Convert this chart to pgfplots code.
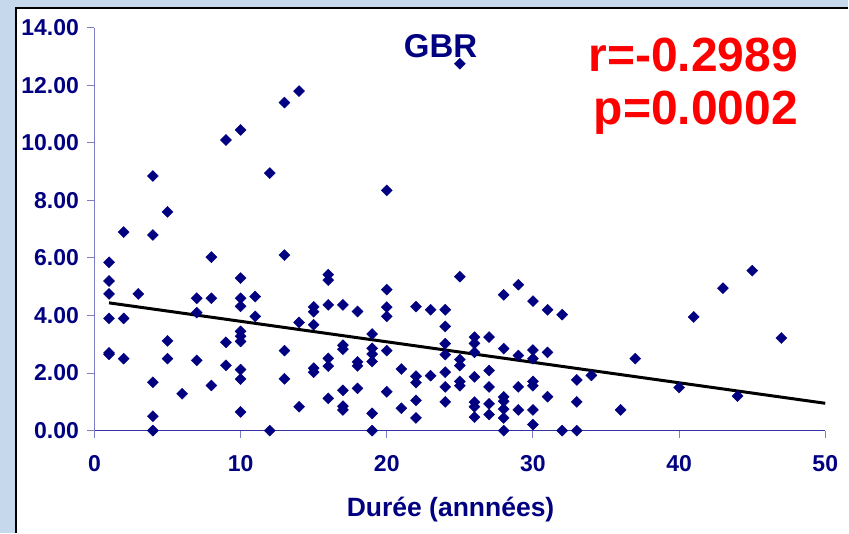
\documentclass[border=0pt]{standalone}
\usepackage{fontspec}
\setmainfont{Liberation Sans}
\usepackage{pgfplots}
\pgfplotsset{compat=1.18}
\usepackage{pgfplotstable}
\usetikzlibrary{calc,backgrounds}

\definecolor{navy}{RGB}{0,0,128}
\definecolor{axisblue}{RGB}{50,50,160}
\definecolor{axislilac}{RGB}{125,125,200}
\definecolor{panelblue}{RGB}{198,217,236}
\definecolor{statred}{RGB}{255,0,0}

% GBR against duration (years)
\pgfplotstableread{
x y
1 5.85
1 5.20
1 4.75
1 3.90
1 2.70
1 2.65
2 6.90
2 3.90
2 2.50
3 4.75
4 8.85
4 6.80
4 1.68
4 0.50
4 0.00
5 7.60
5 3.12
5 2.50
6 1.28
7 4.60
7 4.10
7 2.44
8 6.03
8 4.60
8 1.57
9 10.10
9 3.07
9 2.27
10 10.45
10 5.30
10 4.60
10 4.32
10 3.45
10 3.28
10 3.10
10 2.12
10 1.79
10 0.65
11 4.66
11 3.97
12 8.95
12 0.00
13 11.40
13 6.10
13 2.78
13 1.80
14 11.80
14 3.76
14 0.83
15 4.30
15 4.13
15 3.68
15 2.17
15 2.03
16 5.42
16 5.23
16 4.37
16 2.51
16 2.24
16 1.12
17 4.37
17 2.97
17 2.83
17 1.40
17 0.85
17 0.72
18 4.14
18 2.39
18 2.25
18 1.47
19 3.36
19 2.86
19 2.66
19 2.40
19 0.60
19 0.00
20 8.35
20 4.90
20 4.29
20 3.97
20 2.78
20 1.35
21 2.14
21 0.78
22 4.31
22 1.89
22 1.67
22 1.05
22 0.44
23 4.20
23 1.91
24 4.20
24 3.62
24 3.02
24 2.64
24 2.03
24 1.52
24 1.00
25 12.75
25 5.35
25 2.47
25 2.26
25 1.71
25 1.56
26 3.25
26 3.03
26 2.72
26 1.87
26 0.99
26 0.83
26 0.47
27 3.25
27 2.09
27 1.52
27 0.93
27 0.56
28 4.72
28 2.85
28 1.17
28 1.02
28 0.75
28 0.44
28 0.00
29 5.07
29 2.61
29 1.52
29 0.72
30 4.50
30 2.80
30 2.50
30 1.71
30 1.56
30 0.72
30 0.21
31 4.20
31 2.72
31 1.18
32 4.03
32 0.00
33 1.76
33 1.00
33 0.00
34 1.92
36 0.72
37 2.50
40 1.50
41 3.95
43 4.95
44 1.20
45 5.56
47 3.22
}\gbrdata

\begin{document}
\begin{tikzpicture}[x=1pt,y=1pt]
\begin{axis}[
  name=gbr,
  scale only axis, width=731.5pt, height=403.2pt,
  xmin=0, xmax=50, ymin=0, ymax=14,
  axis lines=left,
  x axis line style={-, axisblue, line width=1pt},
  y axis line style={-, axislilac, line width=1pt},
  tick style={axislilac, line width=1pt},
  tick align=outside,
  major tick length=7pt,
  xtick={0,10,...,50},
  ytick={0,2,...,14},
  clip=false,
  /pgf/number format/assume math mode=true,
  tick label style={font=\bfseries\fontsize{23}{23}\selectfont, text=navy},
  yticklabel style={xshift=-5pt, /pgf/number format/.cd, fixed, fixed zerofill, precision=2},
  xticklabel style={yshift=-14pt},
]
\addplot[only marks, mark=square*, mark size=3.9pt,
  mark options={rotate=45, draw=navy, fill=navy}] table[x=x, y=y] {\gbrdata};
\addplot[black, line width=3pt] coordinates {(1,4.44) (50,0.95)};
\end{axis}

% frame origin: lower-left corner of the whole slide
\coordinate (P) at ($(gbr.south west)+(-94.5,-102)$);

\begin{scope}[on background layer]
\fill[panelblue] (P) rectangle ($(P)+(849,533)$);
\fill[white] ($(P)+(16,0)$) rectangle ($(P)+(849,525)$);
\draw[black, line width=1.5pt] ($(P)+(16,0)$) -- ($(P)+(16,525)$) -- ($(P)+(849,525)$);
\end{scope}

\node[font=\bfseries\fontsize{33}{33}\selectfont, text=navy] at ($(P)+(441,487)$) {GBR};
\node[font=\bfseries\fontsize{48}{48}\selectfont, text=statred, anchor=east] at ($(P)+(802,478)$) {r=-0.2989};
\node[font=\bfseries\fontsize{48}{48}\selectfont, text=statred, anchor=east] at ($(P)+(802,420)$) {p=0.0002};
\node[font=\bfseries\fontsize{26.5}{26.5}\selectfont, text=navy] at ($(P)+(451,23)$) {Durée (annnées)};

\path[use as bounding box] (P) rectangle ($(P)+(849,533)$);
\end{tikzpicture}
\end{document}
